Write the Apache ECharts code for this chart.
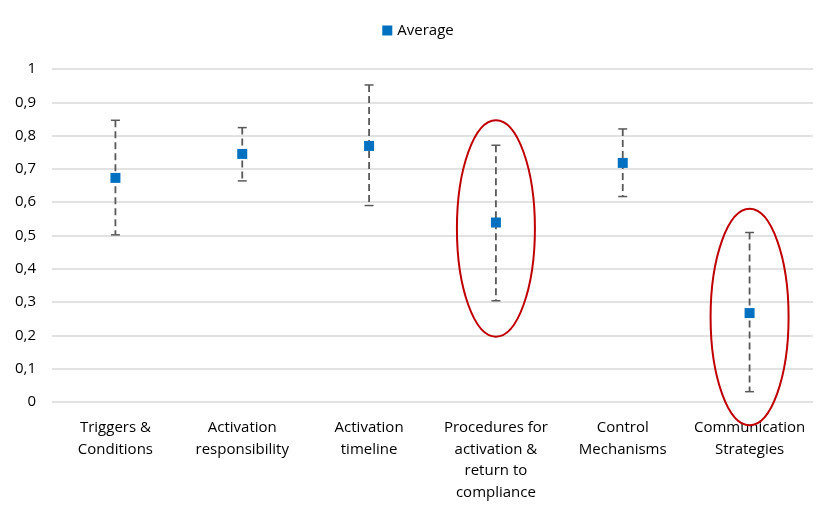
<!DOCTYPE html>
<html>
<head>
<meta charset="utf-8">
<script src="https://cdn.jsdelivr.net/npm/echarts@6/dist/echarts.min.js"></script>
<style>
  html, body { margin: 0; padding: 0; background: #fff; }
  #main { width: 836px; height: 516px; }
</style>
</head>
<body>
<div id="main"></div>
<script>
// data
var categories = [
    'Triggers &\nConditions',
    'Activation\nresponsibility',
    'Activation\ntimeline',
    'Procedures for\nactivation &\nreturn to\ncompliance',
    'Control\nMechanisms',
    'Communication\nStrategies'
];
var averages = [0.673, 0.745, 0.769, 0.539, 0.718, 0.267];
var lows     = [0.502, 0.664, 0.590, 0.304, 0.617, 0.031];
var highs    = [0.846, 0.824, 0.952, 0.771, 0.820, 0.509];
var yTicks   = [0, 0.1, 0.2, 0.3, 0.4, 0.5, 0.6, 0.7, 0.8, 0.9, 1];
// highlighted categories: [category index, centre value, half height in value units]
var highlights = [[3, 0.521, 0.325], [5, 0.255, 0.325]];

var FONT = '"Open Sans", "Noto Sans", sans-serif';

var errData = categories.map(function (c, i) {
    return [i, lows[i], highs[i]];
});

var myChart = echarts.init(document.getElementById('main'));
var option = {
    animation: false,
    legend: {
        top: 18,
        left: 'center',
        itemWidth: 10,
        itemHeight: 10,
        itemGap: 5,
        data: [{ name: 'Average', icon: 'rect', itemStyle: { color: '#0070C0', opacity: 1 } }],
        textStyle: { fontFamily: FONT, fontSize: 15, color: '#000' }
    },
    grid: { left: 52, right: 23, top: 69, bottom: 114 },
    xAxis: {
        type: 'category',
        data: categories,
        boundaryGap: true,
        axisLine: { show: false },
        axisTick: { show: false },
        axisLabel: {
            interval: 0,
            margin: 15,
            fontFamily: FONT,
            fontSize: 15,
            lineHeight: 21.5,
            color: '#000'
        }
    },
    yAxis: {
        type: 'value',
        min: 0,
        max: 1,
        interval: 0.1,
        axisLine: { show: false },
        axisTick: { show: false },
        axisLabel: {
            margin: 16,
            fontFamily: FONT,
            fontSize: 15,
            color: '#000',
            formatter: function (v) {
                return String(Math.round(v * 10) / 10).replace('.', ',');
            }
        },
        splitLine: { lineStyle: { color: '#d9d9d9', width: 1.5 } }
    },
    series: [
        {
            name: 'Error',
            type: 'custom',
            data: errData,
            z: 1,
            renderItem: function (params, api) {
                var lo = api.coord([api.value(0), api.value(1)]);
                var hi = api.coord([api.value(0), api.value(2)]);
                var x = lo[0];
                var st = { stroke: '#595959', lineWidth: 1.5 };
                return {
                    type: 'group',
                    children: [
                        { type: 'line', shape: { x1: x, y1: hi[1], x2: x, y2: lo[1] },
                          style: { stroke: '#595959', lineWidth: 1.8, lineDash: [7, 4] } },
                        { type: 'line', shape: { x1: x - 4.5, y1: hi[1], x2: x + 4.5, y2: hi[1] }, style: st },
                        { type: 'line', shape: { x1: x - 4.5, y1: lo[1], x2: x + 4.5, y2: lo[1] }, style: st }
                    ]
                };
            }
        },
        {
            name: 'Average',
            type: 'scatter',
            data: averages,
            symbol: 'rect',
            symbolSize: 10,
            z: 3,
            itemStyle: { color: '#0070C0', opacity: 1 }
        }
    ]
};
myChart.setOption(option);

// red ellipses around the highlighted categories
var shapes = highlights.map(function (h) {
    var c = myChart.convertToPixel({ gridIndex: 0 }, [h[0], h[1]]);
    var top = myChart.convertToPixel({ gridIndex: 0 }, [h[0], h[1] + h[2]]);
    return {
        type: 'ellipse',
        shape: { cx: c[0], cy: c[1], rx: 39, ry: c[1] - top[1] },
        style: { fill: 'none', stroke: '#C00000', lineWidth: 2 },
        z: 10
    };
});
myChart.setOption({ graphic: shapes });
</script>
</body>
</html>
